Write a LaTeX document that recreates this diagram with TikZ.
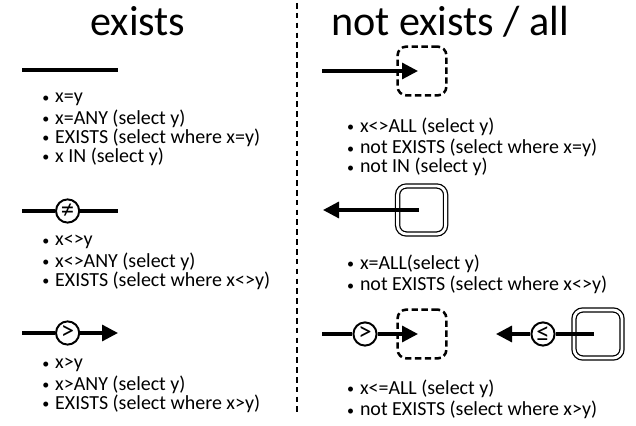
\documentclass[tikz,border=0pt]{standalone}
\usepackage{fontspec}
\setmainfont{Carlito}
\usetikzlibrary{arrows.meta}
\tikzset{
    rel/.style={line width=2.3pt},
    relarr/.style={rel,-{Triangle[length=0.4cm,width=0.4cm]}},
    op/.style={circle,draw,line width=1.4pt,minimum size=0.58cm,inner sep=0pt,fill=white,font=\fontsize{19}{19}\selectfont},
    openbox/.style={draw,line width=1.8pt,dash pattern=on 4.5pt off 2.5pt,rounded corners=0.22cm,minimum size=1.22cm},
    closedbox/.style={draw,double,double distance=2pt,line width=0.9pt,rounded corners=0.22cm,minimum size=1.2cm},
    lst/.style={anchor=north west,align=left,inner sep=0pt,font=\fontsize{14.2}{13.5}\selectfont},
    ttl/.style={anchor=base,font=\fontsize{30}{36}\selectfont},
    divider/.style={line width=0.9pt,dash pattern=on 4pt off 3pt}
}
\newcommand{\itm}{\makebox[9.2pt][l]{\raisebox{0.5pt}{\fontsize{10}{10}\selectfont\textbullet}}}
\begin{document}
\begin{tikzpicture}
    \useasboundingbox (0,0) rectangle (15.9,10.65);
    \node[ttl] (exists) at (3.45,9.75) {exists};
    \node[ttl] (notexists) at (11.25,9.75) {not exists / all};
    \coordinate (divtop) at (7.425,10.575);
    \coordinate (divbot) at (7.425,0.35);
    \draw[divider] (divtop) -- (divbot);

    % exists
    \coordinate (eqa) at (0.55,8.9);
    \coordinate (eqb) at (2.95,8.9);
    \draw[rel] (eqa) -- (eqb);
    \node[lst] (eqlist) at (1.05,8.42) {\strut\itm x=y\\ \itm x=ANY (select y)\\ \itm EXISTS (select where x=y)\\ \itm x IN (select y)};

    \coordinate (nea) at (0.55,5.375);
    \node[op] (ne) at (1.69,5.375) {≠};
    \coordinate (neb) at (2.95,5.375);
    \draw[rel] (nea) -- (ne) -- (neb);
    \node[lst] (nelist) at (1.05,4.845) {\strut\itm x<>y\\ \itm x<>ANY (select y)\\ \itm EXISTS (select where x<>y)};

    \coordinate (gta) at (0.55,2.325);
    \node[op] (gt) at (1.69,2.325) {>};
    \coordinate (gtb) at (2.95,2.325);
    \draw[rel] (gta) -- (gt);
    \draw[relarr] (gt) -- (gtb);
    \node[lst] (gtlist) at (1.05,1.77) {\strut\itm x>y\\ \itm x>ANY (select y)\\ \itm EXISTS (select where x>y)};

    % not exists / all
    \coordinate (alla) at (8.05,8.875);
    \node[openbox] (allbox) at (10.55,8.875) {};
    \draw[relarr] (alla) -- ([xshift=-0.1cm]allbox.center);
    \node[lst] (alllist) at (8.67,7.72) {\strut\itm x<>ALL (select y)\\ \itm not EXISTS (select where x=y)\\ \itm not IN (select y)};

    \node[closedbox] (eqbox) at (10.54,5.4) {};
    \coordinate (eqend) at (8.075,5.4);
    \draw[relarr] ([xshift=-0.075cm]eqbox.center) -- (eqend);
    \node[lst] (eqalllist) at (8.67,4.295) {\strut\itm x=ALL(select y)\\ \itm not EXISTS (select where x<>y)};

    \coordinate (gtc) at (8.05,2.3);
    \node[op] (gtall) at (9.125,2.3) {>};
    \node[openbox] (gtbox) at (10.55,2.3) {};
    \draw[rel] (gtc) -- (gtall);
    \draw[relarr] (gtall) -- ([xshift=-0.1cm]gtbox.center);
    \node[closedbox] (lebox) at (14.95,2.3) {};
    \node[op] (le) at (13.575,2.3) {≤};
    \coordinate (leend) at (12.4,2.3);
    \draw[rel] ([xshift=-0.1cm]lebox.center) -- (le);
    \draw[relarr] (le) -- (leend);
    \node[lst] (lelist) at (8.67,1.17) {\strut\itm x<=ALL (select y)\\ \itm not EXISTS (select where x>y)};
\end{tikzpicture}
\end{document}
